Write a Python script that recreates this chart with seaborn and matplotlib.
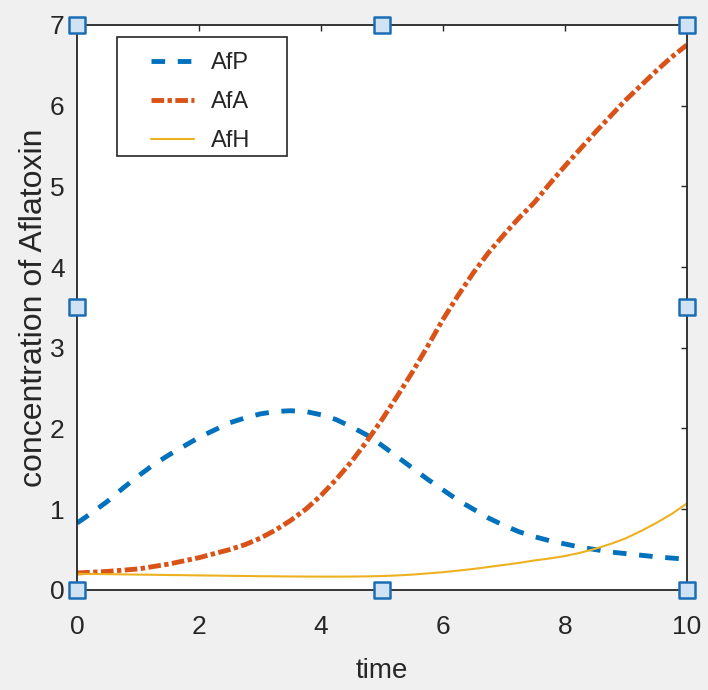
import numpy as np
import pandas as pd
import matplotlib
matplotlib.use("Agg")
import matplotlib.pyplot as plt
import seaborn as sns
from matplotlib.patches import Rectangle

# values
time = [0, 0.25, 0.5, 0.75, 1, 1.25, 1.5, 1.75, 2, 2.25, 2.5, 2.75, 3, 3.25, 3.5, 3.75,
        4, 4.25, 4.5, 4.75, 5, 5.25, 5.5, 5.75, 6, 6.25, 6.5, 6.75, 7, 7.25, 7.5, 7.75,
        8, 8.25, 8.5, 8.75, 9, 9.25, 9.5, 9.75, 10]
afp = [0.83, 0.96, 1.10, 1.26, 1.41, 1.55, 1.67, 1.78, 1.89, 1.98, 2.07, 2.13, 2.18, 2.21,
       2.22, 2.21, 2.17, 2.11, 2.02, 1.92, 1.79, 1.65, 1.51, 1.37, 1.24, 1.11, 1.00, 0.89,
       0.80, 0.72, 0.66, 0.61, 0.57, 0.53, 0.50, 0.47, 0.45, 0.43, 0.41, 0.395, 0.38]
afa = [0.21, 0.22, 0.23, 0.245, 0.26, 0.29, 0.32, 0.36, 0.40, 0.45, 0.50, 0.56, 0.64, 0.74,
       0.86, 1.00, 1.17, 1.37, 1.59, 1.84, 2.11, 2.40, 2.70, 3.02, 3.35, 3.65, 3.93, 4.18,
       4.40, 4.61, 4.80, 5.03, 5.25, 5.46, 5.67, 5.87, 6.07, 6.25, 6.43, 6.60, 6.75]
afh = [0.20, 0.198, 0.196, 0.193, 0.19, 0.188, 0.185, 0.183, 0.18, 0.178, 0.175, 0.173,
       0.17, 0.169, 0.167, 0.166, 0.165, 0.165, 0.166, 0.168, 0.172, 0.18, 0.19, 0.205,
       0.22, 0.24, 0.26, 0.285, 0.31, 0.335, 0.365, 0.39, 0.42, 0.46, 0.51, 0.57, 0.64,
       0.73, 0.83, 0.94, 1.07]

# selection handles shown on the axes box
handle_x = [0, 5, 10, 0, 10, 0, 5, 10]
handle_y = [0, 0, 0, 3.5, 3.5, 7, 7, 7]

df = pd.DataFrame({"time": time, "AfP": afp, "AfA": afa, "AfH": afh})

sns.set_style("white")
plt.rcParams["font.family"] = ["Liberation Sans", "DejaVu Sans"]

fig = plt.figure(figsize=(7.08, 6.90), dpi=100, facecolor="#f0f0f0")
ax = fig.add_axes([0.109, 0.145, 0.861, 0.819])
ax.set_facecolor("white")

sns.lineplot(data=df, x="time", y="AfP", ax=ax, color="#0072BD", lw=3.5, label="AfP")
sns.lineplot(data=df, x="time", y="AfA", ax=ax, color="#D95319", lw=3.5, label="AfA")
sns.lineplot(data=df, x="time", y="AfH", ax=ax, color="#EDB120", lw=1.5, label="AfH")
lines = ax.get_lines()
lines[0].set_dashes((2.8, 2.6))
lines[1].set_dashes((2.6, 0.7, 0.9, 0.7))

sns.scatterplot(x=handle_x, y=handle_y, ax=ax, marker="s", s=130,
                facecolor="#cfe3f5", edgecolor="#1a6db5", linewidth=1.8,
                clip_on=False, zorder=10, legend=False)

ax.set_xlim(0, 10)
ax.set_ylim(0, 7)
ax.set_xticks([0, 2, 4, 6, 8, 10])
ax.set_yticks(range(0, 8))
ax.tick_params(direction="in", length=4, width=1, top=True, right=True,
               labelsize=19, colors="#262626")
ax.tick_params(axis="x", pad=18)
ax.tick_params(axis="y", pad=9)
for s in ax.spines.values():
    s.set_color("#262626")
    s.set_linewidth(1.3)

ax.set_xlabel("time", fontsize=20, color="#262626", labelpad=14)
ax.set_ylabel("concentration of Aflatoxin", fontsize=23, color="#262626", labelpad=1)

leg = ax.legend(loc="upper left", bbox_to_anchor=(0.121, 0.952), frameon=False,
                borderpad=0, borderaxespad=0, handlelength=1.84, handletextpad=0.72,
                labelspacing=0.72, prop={"size": 17})
for t in leg.get_texts():
    t.set_color("#262626")
ax.add_patch(Rectangle((0.0656, 0.768), 0.278, 0.211, transform=ax.transAxes,
                       fill=False, edgecolor="#262626", lw=1.2, zorder=5))

fig.savefig("out.png", dpi=100, facecolor=fig.get_facecolor())
